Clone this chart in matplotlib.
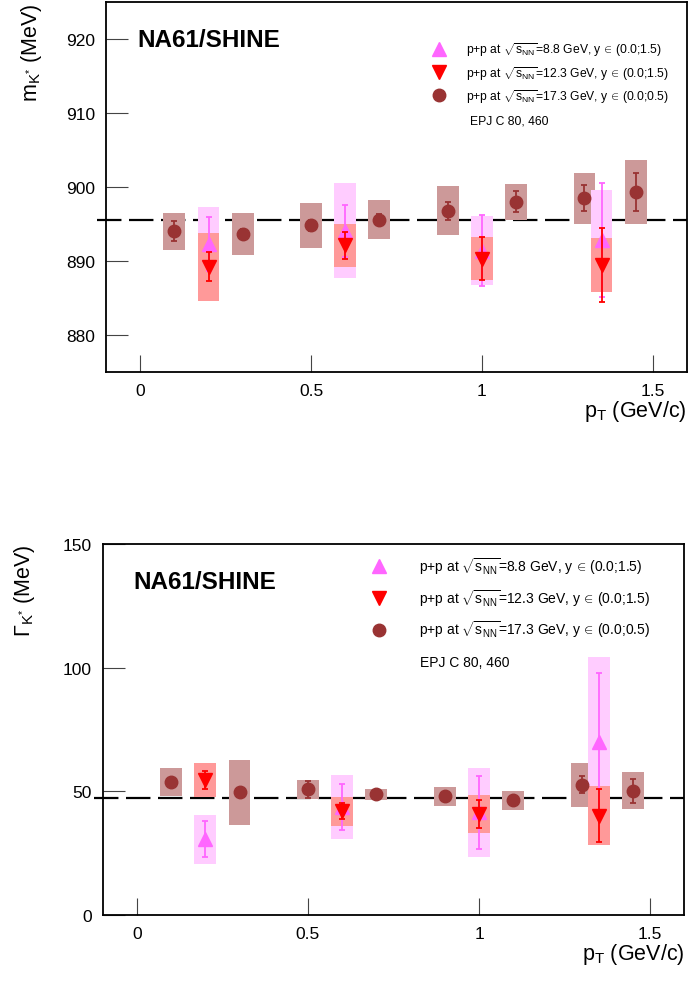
import matplotlib
matplotlib.use("Agg")
import matplotlib.pyplot as plt
from matplotlib.lines import Line2D
import numpy as np

plt.rcParams['font.family'] = ['Liberation Sans', 'DejaVu Sans']
plt.rcParams['mathtext.fontset'] = 'custom'
plt.rcParams['mathtext.rm'] = 'Liberation Sans'
plt.rcParams['mathtext.it'] = 'Liberation Sans:italic'
plt.rcParams['mathtext.sf'] = 'Liberation Sans'

# ---------------- data ----------------
pt_173 = [0.1, 0.3, 0.5, 0.7, 0.9, 1.1, 1.3, 1.45]
pt_88 = [0.2, 0.6, 1.0, 1.35]
pt_123 = [0.2, 0.6, 1.0, 1.35]

mass_173 = [894.0, 893.7, 894.8, 895.6, 896.8, 898.0, 898.5, 899.3]
mass_173_stat = [1.35, 0.6, 0.7, 0.7, 1.2, 1.4, 1.75, 2.6]
mass_173_sys = [2.55, 2.85, 3.1, 2.6, 3.35, 2.4, 3.45, 4.35]

mass_88 = [892.3, 894.1, 891.4, 892.8]
mass_88_stat = [3.6, 3.5, 4.8, 7.7]
mass_88_sys = [5.0, 6.4, 4.65, 6.8]

mass_123 = [889.2, 892.1, 890.3, 889.4]
mass_123_stat = [1.95, 1.8, 2.9, 5.0]
mass_123_sys = [4.65, 2.95, 2.9, 3.65]

width_173 = [53.8, 49.5, 50.7, 48.7, 47.9, 46.4, 52.6, 50.2]
width_173_stat = [1.5, 1.5, 3.35, 1.2, 1.5, 1.5, 3.45, 4.85]
width_173_sys = [5.6, 13.15, 3.85, 2.3, 3.95, 3.85, 8.95, 7.55]

width_88 = [30.5, 43.6, 41.4, 69.8]
width_88_stat = [7.25, 9.3, 14.85, 28.0]
width_88_sys = [9.95, 13.05, 18.1, 34.6]

width_123 = [54.6, 41.8, 40.8, 40.1]
width_123_stat = [3.7, 3.25, 5.7, 10.65]
width_123_sys = [6.95, 5.8, 7.55, 11.8]

pdg_mass = 895.55
pdg_width = 47.3

labels = [r'p+p at $\sqrt{\mathrm{s_{NN}}}$=8.8 GeV, y$\,\in\,$(0.0;1.5)',
          r'p+p at $\sqrt{\mathrm{s_{NN}}}$=12.3 GeV, y$\,\in\,$(0.0;1.5)',
          r'p+p at $\sqrt{\mathrm{s_{NN}}}$=17.3 GeV, y$\,\in\,$(0.0;0.5)']
reference = 'EPJ C 80, 460'
experiment = 'NA61/SHINE'
xticks = [0, 0.5, 1, 1.5]
xticklabels = ['0', '0.5', '1', '1.5']

# ---------------- style ----------------
c88, c88box = '#ff66ff', '#ffccff'
c123, c123box = '#ff0000', '#ff9999'
c173, c173box = '#993333', '#cc9999'
boxw = 0.064

fig = plt.figure(figsize=(6.89, 9.87), dpi=100)
ax1 = fig.add_axes([106/689, 1-373/987, 581/689, 370/987])
ax2 = fig.add_axes([102.7/689, 1-915.7/987, 581.6/689, 370.7/987])


def draw(ax, v88, s88, y88, v123, s123, y123, v173, s173, y173, ref):
    ax.plot([-0.125, 1.6], [ref, ref], color='k', lw=1.6,
            ls=(0, (11, 3.4)), zorder=1, clip_on=False)
    for x, v, s, c in [(pt_173, v173, y173, c173box),
                       (pt_88, v88, y88, c88box),
                       (pt_123, v123, y123, c123box)]:
        x = np.array(x); v = np.array(v); s = np.array(s)
        ax.bar(x, 2*s, bottom=v-s, width=boxw, color=c, edgecolor='none', zorder=2)
    ax.errorbar(pt_88, v88, yerr=s88, fmt='^', color=c88, ms=10,
                elinewidth=1.3, capsize=2.5, capthick=1.3, zorder=3)
    ax.errorbar(pt_123, v123, yerr=s123, fmt='v', color=c123, ms=10,
                elinewidth=1.3, capsize=2.5, capthick=1.3, zorder=4)
    ax.errorbar(pt_173, v173, yerr=s173, fmt='o', color=c173, ms=9,
                elinewidth=1.3, capsize=2.5, capthick=1.3, zorder=5)
    ax.set_xlim(-0.1, 1.6)
    ax.set_xticks(xticks)
    ax.set_xticklabels(xticklabels)
    ax.tick_params(axis='both', direction='in', labelsize=12.5, pad=8,
                   color='#444444')
    ax.tick_params(axis='y', length=16)
    ax.tick_params(axis='x', length=12)
    for sp in ax.spines.values():
        sp.set_linewidth(1.3)
    ax.set_xlabel(r'p$_{\mathrm{T}}$ (GeV/c)', fontsize=15.5, loc='right',
                  labelpad=0)


draw(ax1, mass_88, mass_88_stat, mass_88_sys, mass_123, mass_123_stat, mass_123_sys,
     mass_173, mass_173_stat, mass_173_sys, pdg_mass)
ax1.set_ylim(875, 925)
ax1.set_yticks([880, 890, 900, 910, 920])
ax1.set_ylabel(r'm$_{\mathrm{K^{*}}}$ (MeV)', fontsize=15.5, loc='top', labelpad=16)

draw(ax2, width_88, width_88_stat, width_88_sys, width_123, width_123_stat, width_123_sys,
     width_173, width_173_stat, width_173_sys, pdg_width)
ax2.set_ylim(0, 150)
ax2.set_yticks([0, 50, 100, 150])
ax2.set_ylabel(r'$\Gamma_{\mathrm{K^{*}}}$ (MeV)', fontsize=15.5, loc='top', labelpad=18)

markers = [('^', c88), ('v', c123), ('o', c173)]
legend_specs = [
    # ax, anchor, fontsize, handletextpad, labelspacing, epj position
    (ax1, (0.552, 0.895), 8.7, 1.25, 0.45, (0.626, 0.679)),
    (ax2, (0.451, 0.968), 10.0, 1.9, 0.8, (0.546, 0.683)),
]
for ax, anchor, fs, tpad, lsp, epj in legend_specs:
    handles = [Line2D([], [], ls='none', marker=m, color=c, ms=10 if m != 'o' else 9)
               for m, c in markers]
    ax.legend(handles, labels, loc='upper left', bbox_to_anchor=anchor,
              frameon=False, fontsize=fs, handlelength=2.0, handletextpad=tpad,
              labelspacing=lsp, borderpad=0, borderaxespad=0)
    ax.text(epj[0], epj[1], reference, transform=ax.transAxes, fontsize=fs,
            va='center', ha='left')

ax1.text(0.054, 0.9, experiment, transform=ax1.transAxes, fontsize=17.5,
         fontweight='bold', va='center', ha='left')
ax2.text(0.053, 0.9, experiment, transform=ax2.transAxes, fontsize=17.5,
         fontweight='bold', va='center', ha='left')

fig.savefig('out.png', dpi=100)
